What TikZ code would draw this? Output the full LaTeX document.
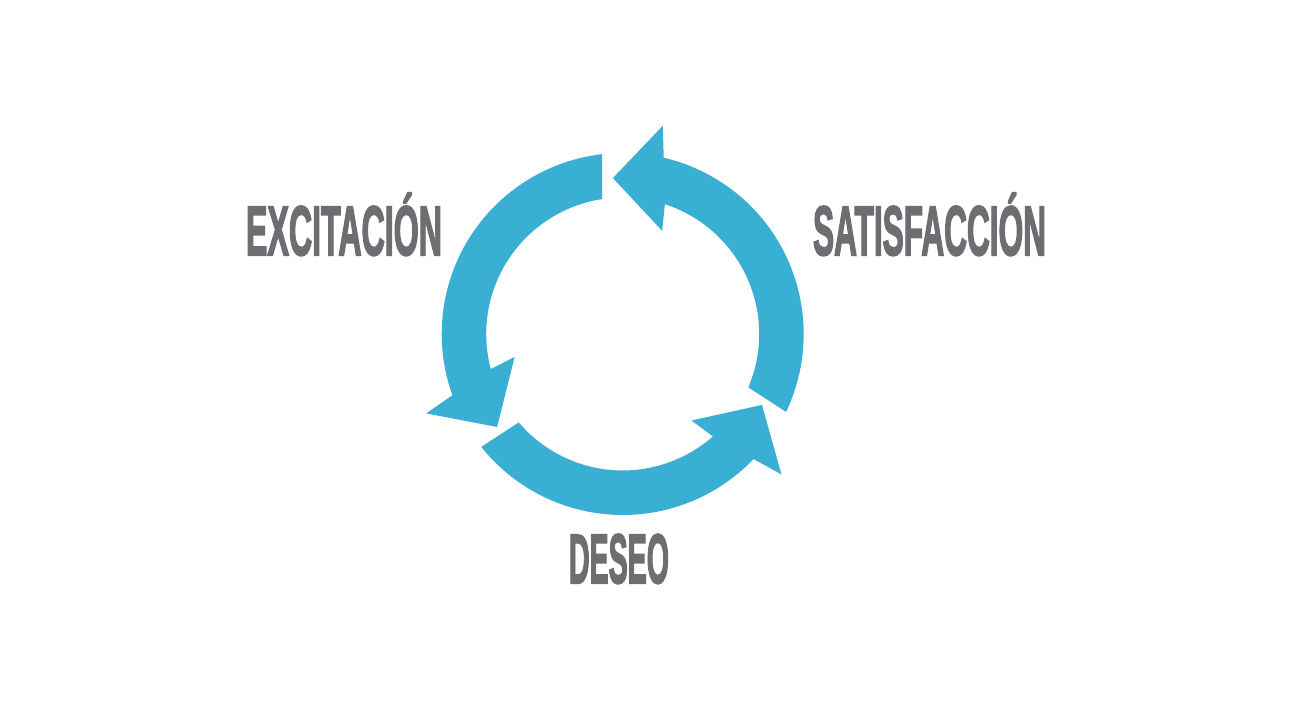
\documentclass[tikz,border=0pt]{standalone}
\usepackage{fontspec}
\usepackage{graphicx}
\newfontfamily\labfont[FakeBold=3]{Liberation Sans Bold}
\definecolor{arrowblue}{HTML}{38AFD3}
\definecolor{labgrey}{HTML}{6D6E71}
\newcommand{\cycarrow}[3]{%
  \fill[arrowblue] (#1:181) arc[start angle=#1, end angle={#3-16.7}, radius=181]
    -- ({#3-14.5}:212) -- (#3:156.3) -- ({#3-24.5}:110.5) -- ({#3-21.6}:136.5)
    arc[start angle={#3-21.6}, end angle=#2, radius=136.5] -- cycle;}
\begin{document}
\begin{tikzpicture}[x=1pt,y=1pt,
  lab/.style={inner sep=0pt, outer sep=0pt, anchor=base west, text=labgrey,
    font=\labfont\fontsize{70}{70}\selectfont}]
\fill[white] (0,0) rectangle (1300,720);
\useasboundingbox (0,0) rectangle (1300,720);
\begin{scope}[shift={(622.7,386)}]
  \cycarrow{96.5}{98.7}{216.5}
  \cycarrow{218.6}{220.4}{333}
  \cycarrow{334.5}{337}{453.6}
\end{scope}
\node[lab] (exc) at (246,465) {\resizebox{196pt}{\height}{EXCITACIÓN}};
\node[lab] (sat) at (813,465) {\resizebox{233pt}{\height}{SATISFACCIÓN}};
\node[lab] (des) at (569,137) {\resizebox{100pt}{\height}{DESEO}};
\end{tikzpicture}
\end{document}
